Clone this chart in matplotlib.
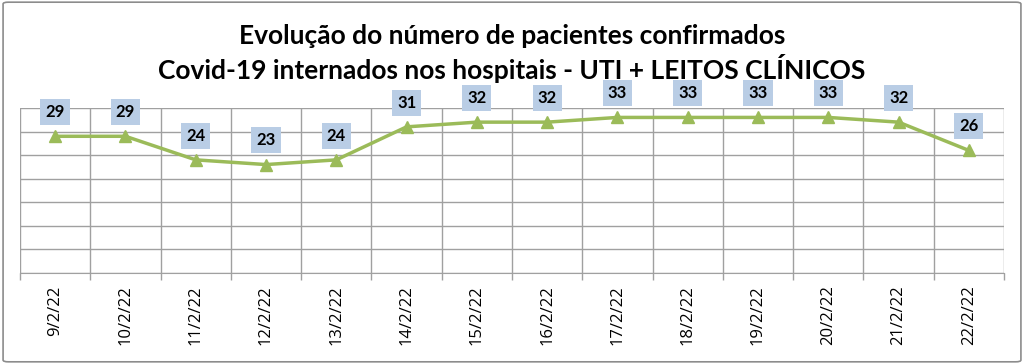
import matplotlib
matplotlib.use("Agg")
import matplotlib.pyplot as plt
from matplotlib.patches import FancyBboxPatch

dates = ["9/2/22", "10/2/22", "11/2/22", "12/2/22", "13/2/22", "14/2/22", "15/2/22",
         "16/2/22", "17/2/22", "18/2/22", "19/2/22", "20/2/22", "21/2/22", "22/2/22"]
patients = [29, 29, 24, 23, 24, 31, 32, 32, 33, 33, 33, 33, 32, 26]
title_lines = ["Evolução do número de pacientes confirmados",
               "Covid-19 internados nos hospitais - UTI + LEITOS CLÍNICOS"]

plt.rcParams['font.family'] = ['Lato', 'DejaVu Sans']

fig = plt.figure(figsize=(10.24, 3.64), dpi=100)
fig.patch.set_facecolor('white')

# outer border
border = FancyBboxPatch((0.003, 0.006), 0.994, 0.988, boxstyle="round,pad=0,rounding_size=0.005",
                        transform=fig.transFigure, fill=False, edgecolor='#8c8c8c', linewidth=1.2)
fig.patches.append(border)

ax = fig.add_axes([20/1024, 91/364, 984/1024, 165/364])
x = list(range(len(dates)))
ax.plot(x, patients, color='#9BBB59', linewidth=2.5, marker='^', markersize=9,
        markerfacecolor='#9BBB59', markeredgecolor='#9BBB59', zorder=3, clip_on=False)

for xi, v in zip(x, patients):
    ax.annotate(str(v), (xi, v), xytext=(0, 17.5), textcoords='offset points',
                ha='center', va='center', fontsize=12, fontweight='bold', color='black',
                bbox=dict(boxstyle='square,pad=0.3', facecolor='#B9CDE5', edgecolor='none'),
                zorder=4, annotation_clip=False)

ax.set_xlim(-0.5, len(dates) - 0.5)
ax.set_ylim(0, 35)
ax.set_yticks(range(0, 36, 5))
ax.set_yticklabels([])
ax.tick_params(axis='y', length=0)
ax.set_xticks([i - 0.5 for i in range(len(dates) + 1)], minor=False)
ax.set_xticklabels([])
ax.set_xticks(x, minor=True)
ax.set_xticklabels(dates, minor=True, rotation=90, fontsize=12, fontfamily=['Open Sans', 'DejaVu Sans'])
ax.tick_params(axis='x', which='major', length=5, color='#a0a0a0', width=1)
ax.tick_params(axis='x', which='minor', length=0, pad=9)
ax.grid(True, axis='both', which='major', color='#a0a0a0', linewidth=1)
ax.set_axisbelow(True)
for s in ['top', 'right', 'left']:
    ax.spines[s].set_visible(False)
ax.spines['bottom'].set_color('#a0a0a0')

fig.text(0.5, 0.90, title_lines[0], ha='center', va='center', fontsize=19, fontweight='bold')
fig.text(0.5, 0.813, title_lines[1], ha='center', va='center', fontsize=19, fontweight='bold')

fig.savefig('out.png', dpi=100)
